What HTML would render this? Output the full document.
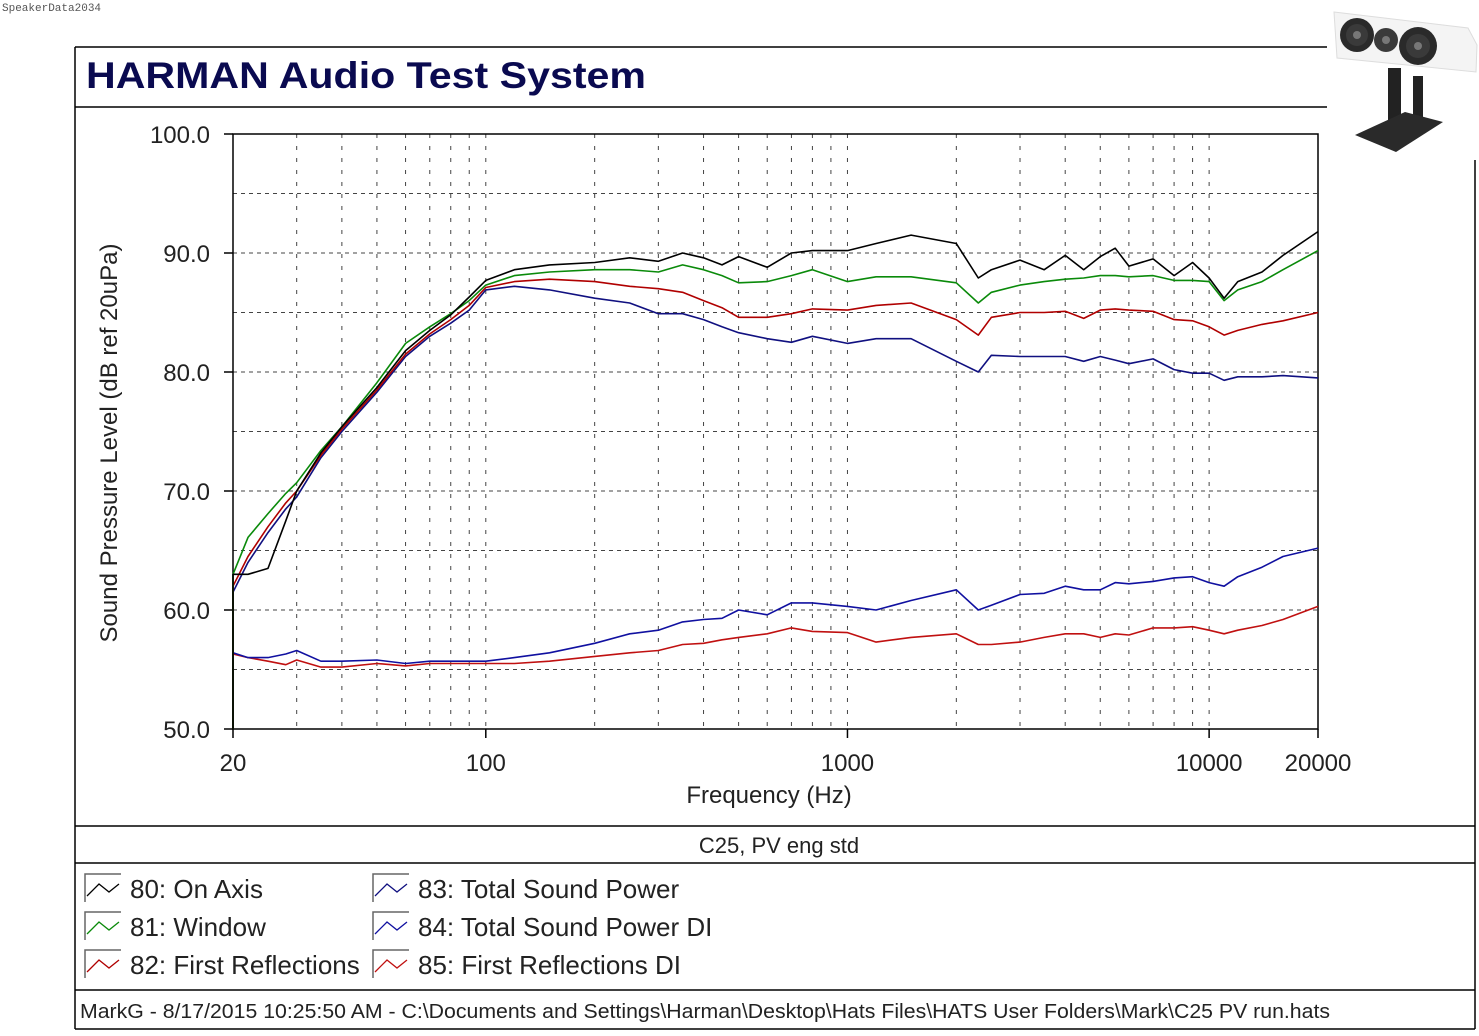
<!DOCTYPE html>
<html><head><meta charset="utf-8"><style>
body{margin:0;background:#fff;width:1479px;height:1036px;overflow:hidden}
svg{display:block;font-family:"Liberation Sans",sans-serif}
</style></head><body>
<svg id="chart" width="1479" height="1036" viewBox="0 0 1479 1036" xmlns="http://www.w3.org/2000/svg">
<text x="2" y="11" font-family="Liberation Mono, monospace" font-size="11" fill="#555">SpeakerData2034</text>
<g stroke="#000" stroke-width="1.5" fill="none">
<line x1="75" y1="47" x2="1327" y2="47"/>
<line x1="75" y1="47" x2="75" y2="1029"/>
<line x1="75" y1="107" x2="1327" y2="107"/>
<line x1="1475" y1="160" x2="1475" y2="1029"/>
<line x1="75" y1="826" x2="1475" y2="826"/>
<line x1="75" y1="863" x2="1475" y2="863"/>
<line x1="75" y1="990" x2="1475" y2="990"/>
<line x1="75" y1="1029" x2="1475" y2="1029"/>
</g>
<text x="86" y="88" font-size="37" font-weight="bold" fill="#0a0a50" textLength="560" lengthAdjust="spacingAndGlyphs">HARMAN Audio Test System</text>
<g id="grid"></g>
<rect x="233" y="134" width="1085" height="595" fill="none" stroke="#000" stroke-width="1.5"/>
<g id="ticks"></g>
<g id="series"></g>
<text transform="translate(117,443) rotate(-90)" text-anchor="middle" font-size="24" fill="#222">Sound Pressure Level (dB ref 20uPa)</text>
<text x="769" y="803" text-anchor="middle" font-size="24" fill="#222">Frequency (Hz)</text>
<text x="779" y="853" text-anchor="middle" font-size="22" fill="#222">C25, PV eng std</text>
<g id="legend"></g>
<text x="80" y="1018" font-size="20" fill="#222" textLength="1250" lengthAdjust="spacingAndGlyphs">MarkG - 8/17/2015 10:25:50 AM - C:\Documents and Settings\Harman\Desktop\Hats Files\HATS User Folders\Mark\C25 PV run.hats</text>
<g>
<path d="M1334 12 L1468 28 L1477 45 L1476 72 L1337 58 Z" fill="#f4f4f4" stroke="#ddd"/>
<circle cx="1357" cy="35" r="17" fill="#2a2a2a"/><circle cx="1357" cy="35" r="11" fill="#3a3a3a"/><circle cx="1357" cy="35" r="4" fill="#777"/>
<circle cx="1386" cy="40" r="12" fill="#3a3a3a"/><circle cx="1386" cy="40" r="4" fill="#777"/>
<circle cx="1418" cy="46" r="19" fill="#2a2a2a"/><circle cx="1418" cy="46" r="12" fill="#3a3a3a"/><circle cx="1418" cy="46" r="4" fill="#777"/>
<rect x="1388" y="68" width="13" height="62" fill="#222"/><rect x="1413" y="76" width="10" height="50" fill="#222"/>
<path d="M1355 135 L1405 112 L1443 122 L1396 152 Z" fill="#2a2a2a"/>
</g>
</svg>
<script>
const freqs=[20,22,25,28,30,35,40,50,60,70,80,90,100,120,150,200,250,300,350,400,450,500,600,700,800,1000,1200,1500,2000,2300,2500,3000,3500,4000,4500,5000,5500,6000,7000,8000,9000,10000,11000,12000,14000,16000,20000];
const onAxis=[63,63,63.5,67.5,70,73.2,75.4,78.7,81.8,83.5,84.8,86.3,87.7,88.6,89,89.2,89.6,89.3,90,89.6,89,89.7,88.8,90,90.2,90.2,90.8,91.5,90.8,87.9,88.6,89.4,88.6,89.8,88.6,89.7,90.4,88.9,89.5,88.1,89.2,87.9,86.2,87.6,88.4,89.8,91.8];
const windowResp=[63,66.1,68.1,69.8,70.7,73.4,75.4,79.1,82.4,83.8,84.9,86,87.3,88.1,88.4,88.6,88.6,88.4,89,88.6,88.1,87.5,87.6,88.1,88.6,87.6,88,88,87.5,85.8,86.7,87.3,87.6,87.8,87.9,88.1,88.1,88,88.1,87.7,87.7,87.6,86,86.9,87.6,88.6,90.2];
const firstRefl=[62,64.5,67,69,70,73,75.2,78.5,81.5,83.2,84.4,85.6,87.1,87.6,87.8,87.6,87.2,87,86.7,86,85.4,84.6,84.6,84.9,85.3,85.2,85.6,85.8,84.4,83.1,84.6,85,85,85.1,84.5,85.2,85.3,85.2,85.1,84.4,84.3,83.8,83.1,83.5,84,84.3,85];
const soundPower=[61.5,64,66.5,68.5,69.5,72.8,75,78.3,81.3,83,84.1,85.2,86.9,87.2,86.9,86.2,85.8,84.9,84.9,84.4,83.8,83.3,82.8,82.5,83,82.4,82.8,82.8,80.9,80,81.4,81.3,81.3,81.3,80.9,81.3,81,80.7,81.1,80.2,79.9,79.9,79.3,79.6,79.6,79.7,79.5];
const spDI=[56.4,56,56,56.3,56.6,55.7,55.7,55.8,55.5,55.7,55.7,55.7,55.7,56,56.4,57.2,58,58.3,59,59.2,59.3,60,59.6,60.6,60.6,60.3,60,60.8,61.7,60,60.4,61.3,61.4,62,61.7,61.7,62.3,62.2,62.4,62.7,62.8,62.3,62,62.8,63.6,64.5,65.2];
const frDI=[56.3,56,55.7,55.4,55.8,55.2,55.2,55.5,55.3,55.5,55.5,55.5,55.5,55.5,55.7,56.1,56.4,56.6,57.1,57.2,57.5,57.7,58,58.5,58.2,58.1,57.3,57.7,58,57.1,57.1,57.3,57.7,58,58,57.7,58,57.9,58.5,58.5,58.6,58.3,58,58.3,58.7,59.2,60.3];
const seriesNames=["80: On Axis","81: Window","82: First Reflections","83: Total Sound Power","84: Total Sound Power DI","85: First Reflections DI"];
const seriesColors=["#000","#0a8a0a","#b00000","#101080","#1010a0","#c01010"];
const yTicks=[50,60,70,80,90,100];
const yTickLabels=["50.0","60.0","70.0","80.0","90.0","100.0"];
const xTicks=[20,100,1000,10000,20000];
const xTickLabels=["20","100","1000","10000","20000"];

const X0=233,X1=1318,Y0=729,Y1=134,FMIN=20,FMAX=20000,DBMIN=50,DBMAX=100;
const xs=f=>X0+(X1-X0)*Math.log10(f/FMIN)/Math.log10(FMAX/FMIN);
const ys=d=>Y0-(Y0-Y1)*(d-DBMIN)/(DBMAX-DBMIN);
const NS="http://www.w3.org/2000/svg";
function mk(tag,attrs,parent){const e=document.createElementNS(NS,tag);for(const k in attrs)e.setAttribute(k,attrs[k]);parent.appendChild(e);return e;}

const grid=document.getElementById('grid');
for(let dec=10;dec<=10000;dec*=10){for(let m=1;m<=9;m++){const f=dec*m;if(f<=20||f>=20000)continue;
 const l=mk('line',{x1:xs(f),x2:xs(f),y1:Y1,y2:Y0,stroke:'#444','stroke-width':1,'stroke-dasharray':'4 8'},grid);
 
 }}
for(let d=55;d<100;d+=5){const l=mk('line',{x1:X0,x2:X1,y1:ys(d),y2:ys(d),stroke:'#444','stroke-width':1,'stroke-dasharray':'4 4'},grid);
 
 }

const ticks=document.getElementById('ticks');
yTicks.forEach((v,i)=>{mk('line',{x1:X0-9,x2:X0,y1:ys(v),y2:ys(v),stroke:'#000','stroke-width':1.5},ticks);
 const t=mk('text',{x:210,y:ys(v)+9,'text-anchor':'end','font-size':24,fill:'#222'},ticks);t.textContent=yTickLabels[i];
 
 });
xTicks.forEach((v,i)=>{mk('line',{x1:xs(v),x2:xs(v),y1:Y0,y2:Y0+9,stroke:'#000','stroke-width':1.5},ticks);
 const t=mk('text',{x:xs(v),y:771,'text-anchor':'middle','font-size':24,fill:'#222'},ticks);t.textContent=xTickLabels[i];
 
 });

const sg=document.getElementById('series');
const allSeries=[onAxis,windowResp,firstRefl,soundPower,spDI,frDI];
const order=[5,4,3,2,1,0];
order.forEach(si=>{const vals=allSeries[si];let d='M'+xs(freqs[0])+' '+ys(DBMIN);
 vals.forEach((v,i)=>{d+=' L'+xs(freqs[i]).toFixed(1)+' '+ys(v).toFixed(1);});
 const p=mk('path',{d:d,fill:'none',stroke:seriesColors[si],'stroke-width':1.6,'stroke-linejoin':'round'},sg);
 
 });

const lg=document.getElementById('legend');
seriesNames.forEach((n,i)=>{const col=Math.floor(i/3),row=i%3;const ix=col?373:85,iy=874+row*38;
 const g=mk('g',{},lg);
 
 
 mk('path',{d:`M${ix} ${iy+28} L${ix} ${iy} L${ix+36} ${iy}`,fill:'none',stroke:'#666','stroke-width':1.5},g);
 mk('polyline',{points:`${ix+2},${iy+22} ${ix+14},${iy+10} ${ix+24},${iy+18} ${ix+34},${iy+10}`,fill:'none',stroke:seriesColors[i],'stroke-width':1.3},g);
 const t=mk('text',{x:ix+45,y:iy+24,'font-size':26,fill:'#222'},g);t.textContent=n;});
</script>
</body></html>
